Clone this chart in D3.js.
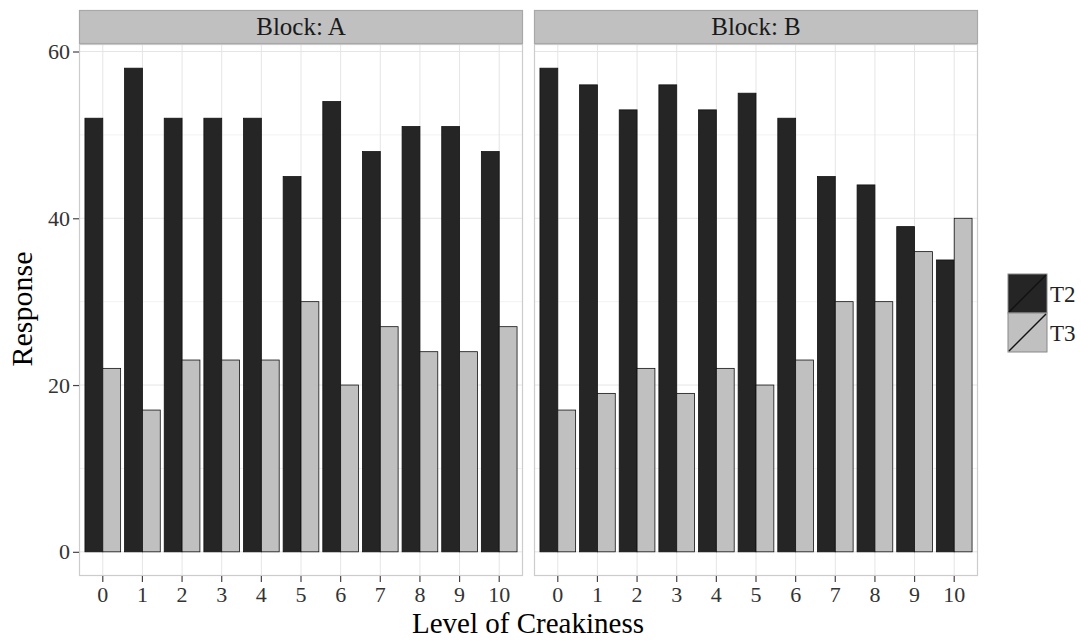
<!DOCTYPE html>
<html lang="en">
<head>
<meta charset="UTF-8">
<title>Creakiness</title>
<script src="https://cdn.jsdelivr.net/npm/d3@7"></script>
<style>
  body { margin: 0; background: #fff; font-family: "Liberation Serif", "DejaVu Serif", serif; }
</style>
</head>
<body>
<script>
  let width = 1081;
  let height = 640;

  let levels = ["0", "1", "2", "3", "4", "5", "6", "7", "8", "9", "10"];
  let treatments = ["T2", "T3"];
  let blocks = ["A", "B"];
  let yTicks = [0, 20, 40, 60];
  let yMinor = [10, 30, 50];

  // Response per level, one array per block and treatment
  let blockA_T2 = [52, 58, 52, 52, 52, 45, 54, 48, 51, 51, 48];
  let blockA_T3 = [22, 17, 23, 23, 23, 30, 20, 27, 24, 24, 27];
  let blockB_T2 = [58, 56, 53, 56, 53, 55, 52, 45, 44, 39, 35];
  let blockB_T3 = [17, 19, 22, 19, 22, 20, 23, 30, 30, 36, 40];

  let values = { A: { T2: blockA_T2, T3: blockA_T3 }, B: { T2: blockB_T2, T3: blockB_T3 } };
  let fills = { T2: "#252525", T3: "#c0c0c0" };

  let panelTop = 44, panelBottom = 576, stripTop = 10;
  let panels = [{ block: "A", x0: 79, x1: 523 }, { block: "B", x0: 534, x1: 978 }];

  let y = d3.scaleLinear().domain([-2.9, 60.9]).range([panelBottom, panelTop]);

  let svg = d3.select("body").append("svg")
    .attr("width", width)
    .attr("height", height);

  panels.forEach(function (p, pi) {
    let x = d3.scaleBand().domain(levels).range([p.x0, p.x1]).paddingInner(0.1).paddingOuter(0.15);
    let xInner = d3.scaleBand().domain(treatments).range([0, x.bandwidth()]);
    let g = svg.append("g");

    // panel background + grid
    g.append("rect").attr("x", p.x0).attr("y", panelTop)
      .attr("width", p.x1 - p.x0).attr("height", panelBottom - panelTop).attr("fill", "#fff");
    g.selectAll(".minor").data(yMinor).enter().append("line")
      .attr("x1", p.x0).attr("x2", p.x1)
      .attr("y1", d => y(d)).attr("y2", d => y(d))
      .attr("stroke", "#f2f2f2").attr("stroke-width", 1);
    g.selectAll(".major").data(yTicks).enter().append("line")
      .attr("x1", p.x0).attr("x2", p.x1)
      .attr("y1", d => y(d)).attr("y2", d => y(d))
      .attr("stroke", "#e5e5e5").attr("stroke-width", 1);
    g.selectAll(".vgrid").data(levels).enter().append("line")
      .attr("x1", d => x(d) + x.bandwidth() / 2).attr("x2", d => x(d) + x.bandwidth() / 2)
      .attr("y1", panelTop).attr("y2", panelBottom)
      .attr("stroke", "#e5e5e5").attr("stroke-width", 1);

    // bars
    treatments.forEach(function (t) {
      g.selectAll(".bar-" + t).data(values[p.block][t]).enter().append("rect")
        .attr("x", (d, i) => x(levels[i]) + xInner(t))
        .attr("y", d => y(d))
        .attr("width", xInner.bandwidth())
        .attr("height", d => y(0) - y(d))
        .attr("fill", fills[t])
        .attr("stroke", "#111")
        .attr("stroke-width", 0.8);
    });

    // border
    g.append("rect").attr("x", p.x0 + 0.5).attr("y", panelTop + 0.5)
      .attr("width", p.x1 - p.x0 - 1).attr("height", panelBottom - panelTop - 1)
      .attr("fill", "none").attr("stroke", "#cccccc").attr("stroke-width", 1.2);

    // strip
    g.append("rect").attr("x", p.x0 + 0.5).attr("y", stripTop + 0.5)
      .attr("width", p.x1 - p.x0 - 1).attr("height", panelTop - stripTop - 1)
      .attr("fill", "#c0c0c0").attr("stroke", "#a8a8a8").attr("stroke-width", 1.2);
    g.append("text").attr("x", (p.x0 + p.x1) / 2).attr("y", 35)
      .attr("text-anchor", "middle").attr("font-size", 25).attr("fill", "#1a1a1a")
      .text("Block: " + p.block);

    // x axis
    let xAxis = d3.axisBottom(x).tickSize(6).tickPadding(4);
    let ax = svg.append("g").attr("transform", "translate(0," + panelBottom + ")").call(xAxis);
    ax.select(".domain").remove();
    ax.selectAll(".tick line").attr("stroke", "#444").attr("stroke-width", 1.2);
    ax.selectAll(".tick text").attr("font-size", 22).attr("fill", "#333")
      .attr("font-family", "Liberation Serif").attr("dy", "0.71em");

    if (pi === 0) {
      let yAxis = d3.axisLeft(y).tickValues(yTicks).tickSize(6).tickPadding(3);
      let ay = svg.append("g").attr("transform", "translate(" + p.x0 + ",0)").call(yAxis);
      ay.select(".domain").remove();
      ay.selectAll(".tick line").attr("stroke", "#444").attr("stroke-width", 1.2);
      ay.selectAll(".tick text").attr("font-size", 22).attr("fill", "#333")
        .attr("font-family", "Liberation Serif");
    }
  });

  // axis titles
  svg.append("text").attr("x", 528).attr("y", 633)
    .attr("text-anchor", "middle").attr("font-size", 29).attr("fill", "#000")
    .text("Level of Creakiness");
  svg.append("text").attr("transform", "translate(32,309) rotate(-90)")
    .attr("text-anchor", "middle").attr("font-size", 30).attr("fill", "#000")
    .text("Response");

  // legend
  let keySize = 39;
  let legend = svg.append("g").attr("transform", "translate(1008,274)");
  treatments.forEach(function (t, i) {
    let k = legend.append("g").attr("transform", "translate(0," + i * keySize + ")");
    k.append("rect").attr("width", keySize).attr("height", keySize)
      .attr("fill", fills[t]).attr("stroke", "#888").attr("stroke-width", 1);
    k.append("line").attr("x1", 1).attr("y1", keySize - 1).attr("x2", keySize - 1).attr("y2", 1)
      .attr("stroke", "#111").attr("stroke-width", 1.5);
    k.append("text").attr("x", keySize + 3).attr("y", keySize / 2 + 8)
      .attr("font-size", 23).attr("fill", "#222").text(t);
  });
</script>
</body>
</html>
